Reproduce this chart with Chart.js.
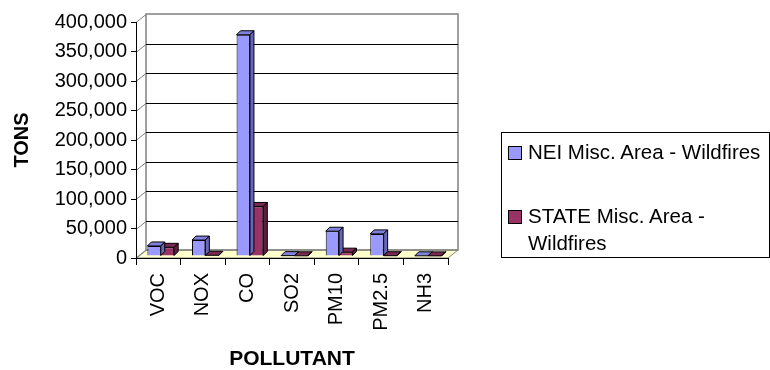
<!DOCTYPE html>
<html>
<head>
<meta charset="utf-8">
<script src="https://cdn.jsdelivr.net/npm/chart.js@4.4.1/dist/chart.umd.min.js"></script>
<style>
body { margin: 0; background: #fff; }
#wrap { position: relative; width: 770px; height: 370px; }
#legend { position: absolute; left: 501px; top: 132px; width: 267px; height: 124px; border: 1px solid #000;
  font-family: "Liberation Sans", Arial, sans-serif; font-size: 20.5px; color: #000; }
.item { position: absolute; left: 26px; width: 240px; line-height: 26.5px; }
.sw { position: absolute; left: -20px; top: 7px; width: 12px; height: 12px; border: 1px solid #000; }
</style>
</head>
<body>
<div id="wrap">
  <canvas id="ch" width="770" height="370"></canvas>
  <div id="legend"></div>
</div>
<script>
// values (tons)
var categories = ['VOC', 'NOX', 'CO', 'SO2', 'PM10', 'PM2.5', 'NH3'];
var neiValues = [17000, 27000, 375000, 600, 42000, 37500, 300];
var stateValues = [14700, 1200, 84000, 300, 6500, 500, 200];
var seriesNames = ['NEI Misc. Area - Wildfires', 'STATE Misc. Area - Wildfires'];
var yTicks = [0, 50000, 100000, 150000, 200000, 250000, 300000, 350000, 400000];

var frontColors = ['#9999ff', '#993366'];
var topColors = ['#8080dd', '#7a2952'];
var sideColors = ['#6666b8', '#5e1f3f'];

var DX = 10, DY = 8;   // depth of the back wall
var BX = 4, BY = 4;    // depth of a bar

var walls = {
  id: 'walls',
  beforeDraw: function(chart) {
    var ctx = chart.ctx, a = chart.chartArea, y = chart.scales.y;
    ctx.save();
    // floor
    ctx.beginPath();
    ctx.moveTo(a.left, a.bottom);
    ctx.lineTo(a.right, a.bottom);
    ctx.lineTo(a.right + DX, a.bottom - DY);
    ctx.lineTo(a.left + DX, a.bottom - DY);
    ctx.closePath();
    ctx.fillStyle = '#ffffcc';
    ctx.fill();
    ctx.strokeStyle = '#808080';
    ctx.lineWidth = 1;
    ctx.stroke();
    // back wall
    ctx.strokeStyle = '#808080';
    ctx.lineWidth = 1.5;
    ctx.strokeRect(a.left + DX, a.top - DY, a.right - a.left, a.bottom - a.top);
    // grid lines on the back wall and the left side
    ctx.lineWidth = 1;
    yTicks.forEach(function(v) {
      var py = Math.round(y.getPixelForValue(v)) + 0.5;
      ctx.strokeStyle = '#808080';
      ctx.beginPath();
      ctx.moveTo(a.left, py);
      ctx.lineTo(a.left + DX, py - DY);
      ctx.stroke();
      if (v > 0 && v < 400000) {
        ctx.strokeStyle = '#000';
        ctx.beginPath();
        ctx.moveTo(a.left + DX, py - DY);
        ctx.lineTo(a.right + DX, py - DY);
        ctx.stroke();
      }
    });
    ctx.restore();
  },
  beforeDatasetsDraw: function(chart) {
    chart.ctx.save();
    chart.ctx.translate(2.5, -2);
  },
  afterDatasetDraw: function(chart, args) {
    var ctx = chart.ctx;
    var meta = chart.getDatasetMeta(args.index);
    ctx.save();
    ctx.strokeStyle = '#000';
    ctx.lineWidth = 1;
    meta.data.forEach(function(el) {
      var l = el.x - el.width / 2, r = el.x + el.width / 2, t = el.y, b = el.base;
      ctx.beginPath();
      ctx.moveTo(l, t);
      ctx.lineTo(l + BX, t - BY);
      ctx.lineTo(r + BX, t - BY);
      ctx.lineTo(r, t);
      ctx.closePath();
      ctx.fillStyle = topColors[args.index];
      ctx.fill();
      ctx.stroke();
      ctx.beginPath();
      ctx.moveTo(r, t);
      ctx.lineTo(r + BX, t - BY);
      ctx.lineTo(r + BX, b - BY);
      ctx.lineTo(r, b);
      ctx.closePath();
      ctx.fillStyle = sideColors[args.index];
      ctx.fill();
      ctx.stroke();
    });
    ctx.restore();
  },
  afterDatasetsDraw: function(chart) {
    chart.ctx.restore();
  }
};

var font = 'Liberation Sans, Arial, sans-serif';
var chart = new Chart(document.getElementById('ch').getContext('2d'), {
  type: 'bar',
  data: {
    labels: categories,
    datasets: [{
      label: seriesNames[0],
      data: neiValues,
      backgroundColor: frontColors[0],
      borderColor: '#000',
      borderWidth: 1
    }, {
      label: seriesNames[1],
      data: stateValues,
      backgroundColor: frontColors[1],
      borderColor: '#000',
      borderWidth: 1
    }]
  },
  options: {
    responsive: false,
    animation: false,
    categoryPercentage: 0.6,
    barPercentage: 1.0,
    layout: { padding: { left: 0, right: 322, top: 22, bottom: 0 } },
    plugins: { legend: { display: false }, tooltip: { enabled: false } },
    scales: {
      x: {
        grid: { drawOnChartArea: false, tickLength: 7, color: '#000' },
        border: { color: '#000' },
        ticks: { color: '#000', font: { family: font, size: 20 }, minRotation: 90, maxRotation: 90, autoSkip: false, padding: 8 },
        title: { display: true, text: 'POLLUTANT', color: '#000', font: { family: font, size: 21, weight: 'bold', lineHeight: 1 }, padding: 0 },
        afterFit: function(s) { s.height = 112; }
      },
      y: {
        min: 0,
        max: 400000,
        afterBuildTicks: function(s) { s.ticks = yTicks.map(function(v) { return { value: v }; }); },
        grid: { drawOnChartArea: false, tickLength: 5, color: '#000' },
        border: { color: '#000' },
        ticks: {
          color: '#000', font: { family: font, size: 20 }, padding: 4,
          callback: function(v) { return v.toLocaleString('en-US'); }
        },
        title: { display: true, text: 'TONS', color: '#000', font: { family: font, size: 20, weight: 'bold' }, padding: { top: 10, bottom: 0 } },
        afterFit: function(s) { s.width = 136; }
      }
    }
  },
  plugins: [walls]
});

// legend as html, so the second name can wrap like the original
var legend = document.getElementById('legend');
var tops = [6, 70];
seriesNames.forEach(function(name, i) {
  var d = document.createElement('div');
  d.className = 'item';
  d.style.top = tops[i] + 'px';
  d.innerHTML = '<span class="sw" style="background:' + frontColors[i] + '"></span>' + name;
  legend.appendChild(d);
});
</script>
</body>
</html>
